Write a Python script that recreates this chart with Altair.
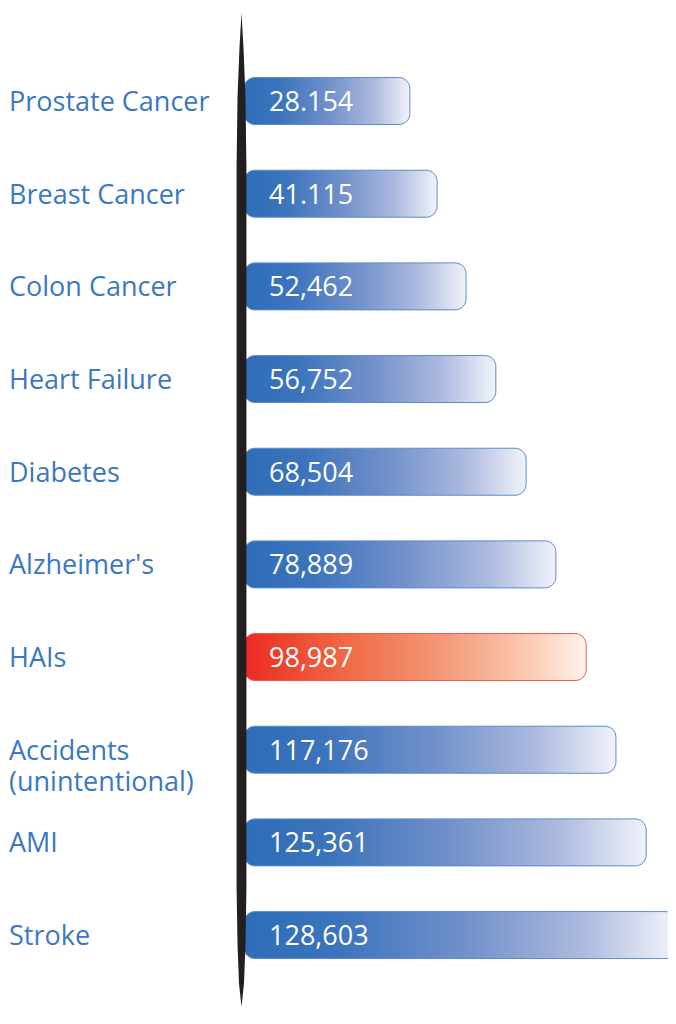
import altair as alt
import pandas as pd

# ---- data ----
labels = ["Prostate Cancer", "Breast Cancer", "Colon Cancer", "Heart Failure",
          "Diabetes", "Alzheimer's", "HAIs", "Accidents|(unintentional)",
          "AMI", "Stroke"]
value_labels = ["28.154", "41.115", "52,462", "56,752", "68,504",
                "78,889", "98,987", "117,176", "125,361", "128,603"]
# drawn bar length, as % of the longest bar (the infographic is not to scale)
bar_length = [38.4, 44.7, 51.4, 58.3, 65.3, 72.2, 79.2, 86.1, 93.1, 100.0]
highlight = [False, False, False, False, False, False, True, False, False, False]

df = pd.DataFrame({
    "row": list(range(len(labels))),
    "label": labels,
    "value_label": value_labels,
    "length": bar_length,
    "highlight": highlight,
})

W, H = 660, 1000
FONT = "Open Sans"
LABEL_BLUE = "#3a78c2"

x_scale = alt.Scale(domain=[0, 100], range=[236, 668], nice=False, zero=False, padding=0)
y_scale = alt.Scale(domain=[-1.004, 9.787], reverse=True, nice=False, zero=False, padding=0)

base = alt.Chart(df).encode(
    y=alt.Y("row:Q", scale=y_scale, axis=None),
)

blue_grad = alt.LinearGradient(
    gradient="linear", x1=0, x2=1, y1=0, y2=0,
    stops=[
        alt.GradientStop(offset=0.0, color="#2e6db8"),
        alt.GradientStop(offset=0.22, color="#3c74bc"),
        alt.GradientStop(offset=0.5, color="#6f8fc9"),
        alt.GradientStop(offset=0.78, color="#abb9de"),
        alt.GradientStop(offset=1.0, color="#f1f3fa"),
    ],
)
red_grad = alt.LinearGradient(
    gradient="linear", x1=0, x2=1, y1=0, y2=0,
    stops=[
        alt.GradientStop(offset=0.0, color="#ec2a22"),
        alt.GradientStop(offset=0.3, color="#f06a45"),
        alt.GradientStop(offset=0.6, color="#f39c7c"),
        alt.GradientStop(offset=0.85, color="#fbcfb8"),
        alt.GradientStop(offset=1.0, color="#fff3ee"),
    ],
)

bars_blue = base.transform_filter("!datum.highlight").mark_bar(
    height=47, cornerRadiusEnd=11, fill=blue_grad,
    stroke="#5b8cca", strokeWidth=1,
).encode(x=alt.X("length:Q", scale=x_scale, axis=None), x2=alt.datum(0))

bars_red = base.transform_filter("datum.highlight").mark_bar(
    height=47, cornerRadiusEnd=11, fill=red_grad,
    stroke="#e65a52", strokeWidth=1,
).encode(x=alt.X("length:Q", scale=x_scale, axis=None), x2=alt.datum(0))

# tapered black spine
spine_path = ("M0,-1 L0.004,-0.93 L0.008,-0.83 L0.0099,-0.69 L0.0099,0.76 "
              "L0.008,0.875 L0.005,0.954 L0,1 L-0.005,0.954 L-0.008,0.875 "
              "L-0.0099,0.76 L-0.0099,-0.69 L-0.008,-0.83 L-0.004,-0.93 Z")
spine = alt.Chart(pd.DataFrame({"row": [4.41]})).mark_point(
    shape=spine_path, size=994 * 994, filled=True, fill="#231f20",
    opacity=1, strokeWidth=0,
).encode(
    x=alt.value(233.5),
    y=alt.Y("row:Q", scale=y_scale, axis=None),
)

cat_text = base.transform_calculate(
    lines="split(datum.label, '|')"
).mark_text(
    align="left", baseline="alphabetic", dy=10, font=FONT, fontSize=27,
    color=LABEL_BLUE, lineHeight=31,
).encode(x=alt.value(1), text="lines:N")

val_text = base.mark_text(
    align="left", baseline="alphabetic", dy=10, font=FONT, fontSize=27,
    color="white",
).encode(x=alt.value(261), text="value_label:N")

chart = alt.layer(bars_blue, bars_red, spine, cat_text, val_text).properties(
    width=W, height=H, padding=0,
    autosize=alt.AutoSizeParams(type="none"),
).configure_view(stroke=None)

chart.save("out.html", embed_options={"renderer": "svg", "actions": False})
